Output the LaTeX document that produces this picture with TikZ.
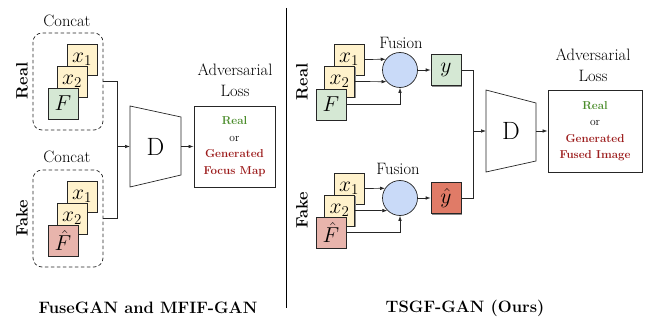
\documentclass[tikz,border=0pt]{standalone}
\usepackage{fontspec}
\usepackage{graphicx}
\usetikzlibrary{arrows.meta,shadows}
\definecolor{cyel}{HTML}{FFF2CC}
\definecolor{cgrn}{HTML}{D5E8D4}
\definecolor{cpnk}{HTML}{E8B4AC}
\definecolor{cred}{HTML}{E07B67}
\definecolor{cblu}{HTML}{C9DAF8}
\definecolor{tgreen}{HTML}{4A8C2A}
\definecolor{tred}{HTML}{9C1C1C}
\newcommand\bm[1]{\scalebox{1.04}{\fontsize{20.74}{22}\selectfont $#1$}}
\tikzset{
  tile/.style={draw=black!85, line width=0.7pt, minimum width=30pt, minimum height=31pt, inner sep=0pt,
    general shadow={shadow xshift=1.4pt, shadow yshift=-1.4pt, fill=black!45}},
  ytile/.style={tile, fill=cyel},
  gtile/.style={tile, fill=cgrn},
  ptile/.style={tile, fill=cpnk},
  rtile/.style={tile, fill=cred},
  lbl/.style={font=\fontsize{16.5}{21}\selectfont, align=center, inner sep=0pt},
  side/.style={font=\fontsize{16.5}{18}\selectfont\bfseries, rotate=90, inner sep=0pt},
  grp/.style={draw=black!85, dashed, dash pattern=on 3.5pt off 2.5pt, rounded corners=9pt, line width=0.7pt, minimum width=70pt, minimum height=97pt},
  lossbox/.style={draw=black!85, line width=0.8pt, align=center, font=\fontsize{11.5}{16.5}\selectfont},
  fus/.style={circle, draw=black!85, fill=cblu, line width=0.7pt, minimum size=35pt, inner sep=0pt},
  conn/.style={line width=0.7pt, draw=black!85},
  arr/.style={conn, -{Latex[length=5pt,width=3.6pt]}},
  ttl/.style={font=\fontsize{16.5}{18}\selectfont\bfseries, inner sep=0pt},
  dlab/.style={font=\fontsize{25}{27}\selectfont, inner sep=0pt}
}
\newcommand\rl{\textbf{\textcolor{tgreen}{Real}}}
\begin{document}
\begin{tikzpicture}[x=1pt,y=-1pt]
\useasboundingbox (0,0) rectangle (647,323);
% ===== Left panel =====
\node[lbl] (c1) at (67,21) {Concat};
\node[grp] (g1) at (68,81.5) {};
\node[ytile] (a1) at (82,59.5) {\bm{x_1}};
\node[ytile] (a2) at (72,81.5) {\bm{x_2}};
\node[gtile] (a3) at (63,103.5) {\bm{F}};
\node[side] (r1) at (22,81) {Real};

\node[lbl] (c2) at (67,157) {Concat};
\node[grp] (g2) at (68,218.5) {};
\node[ytile] (b1) at (82,196.5) {\bm{x_1}};
\node[ytile] (b2) at (72,218.5) {\bm{x_2}};
\node[ptile] (b3) at (63,240.5) {\bm{\hat{F}}};
\node[side] (r2) at (22,218) {Fake};

\draw[conn] (130,106) -- (181,117) -- (181,175) -- (130,187) -- cycle;
\node[dlab] (D1) at (155.5,146.5) {D};
\coordinate (D1in) at (130,146.5);
\coordinate (D1out) at (181,146.5);
\coordinate (j1) at (117,146.5);
\draw[conn] (g1.east) -| (j1);
\draw[conn] (g2.east) -| (j1);
\draw[arr] (j1) -- (D1in);

\node[lossbox, minimum width=81pt, minimum height=81pt] (L1) at (234.5,146.5)
  {\rl\\or\\\textbf{\textcolor{tred}{Generated}}\\\textbf{\textcolor{tred}{Focus Map}}};
\node[lbl] (al1) at (235,80.5) {Adversarial\\Loss};
\draw[arr] (D1out) -- (L1.west);

\node[ttl] (t1) at (148,308) {FuseGAN and MFIF-GAN};

% divider
\draw[line width=1pt] (286,8) -- (286,308);

% ===== Right panel =====
\node[side] (r3) at (302,82) {Real};
\node[lbl] (fl1) at (401,43) {Fusion};
\node[fus] (f1) at (400,70) {};
\node[ytile] (p1) at (349,59.5) {\bm{x_1}};
\node[ytile] (p2) at (339.5,81.5) {\bm{x_2}};
\node[gtile] (p3) at (331,104.5) {\bm{F}};
\draw[arr] (p1.east) -- (f1.143.13);
\draw[arr] (p2.east) -- (f1.221.07);
\draw[arr] (p3.east) -| (f1.south);
\node[gtile] (y1) at (446,70) {\bm{y}};
\draw[arr] (f1.east) -- (y1.west);

\node[side] (r4) at (302,210) {Fake};
\node[lbl] (fl2) at (398,169) {Fusion};
\node[fus] (f2) at (400,198) {};
\node[ytile] (q1) at (349,188.5) {\bm{x_1}};
\node[ytile] (q2) at (339.5,210.5) {\bm{x_2}};
\node[ptile] (q3) at (331,232.5) {\bm{\hat{F}}};
\draw[arr] (q1.east) -- (f2.147.10);
\draw[arr] (q2.east) -- (f2.225.58);
\draw[arr] (q3.east) -| (f2.south);
\node[rtile] (y2) at (446,198) {\bm{\hat{y}}};
\draw[arr] (f2.east) -- (y2.west);

\draw[conn] (486,90) -- (536,103) -- (536,161) -- (486,172) -- cycle;
\node[dlab] (D2) at (511,131) {D};
\coordinate (D2in) at (486,131);
\coordinate (D2out) at (536,131);
\coordinate (j2) at (473,131);
\draw[conn] (y1.east) -| (j2);
\draw[conn] (y2.east) -| (j2);
\draw[arr] (j2) -- (D2in);

\node[lossbox, minimum width=94pt, minimum height=82pt] (L2) at (595,131)
  {\rl\\or\\\textbf{\textcolor{tred}{Generated}}\\\textbf{\textcolor{tred}{Fused Image}}};
\node[lbl] (al2) at (593,65) {Adversarial\\Loss};
\draw[arr] (D2out) -- (L2.west);

\node[ttl] (t2) at (465,308) {TSGF-GAN (Ours)};
\end{tikzpicture}
\end{document}
